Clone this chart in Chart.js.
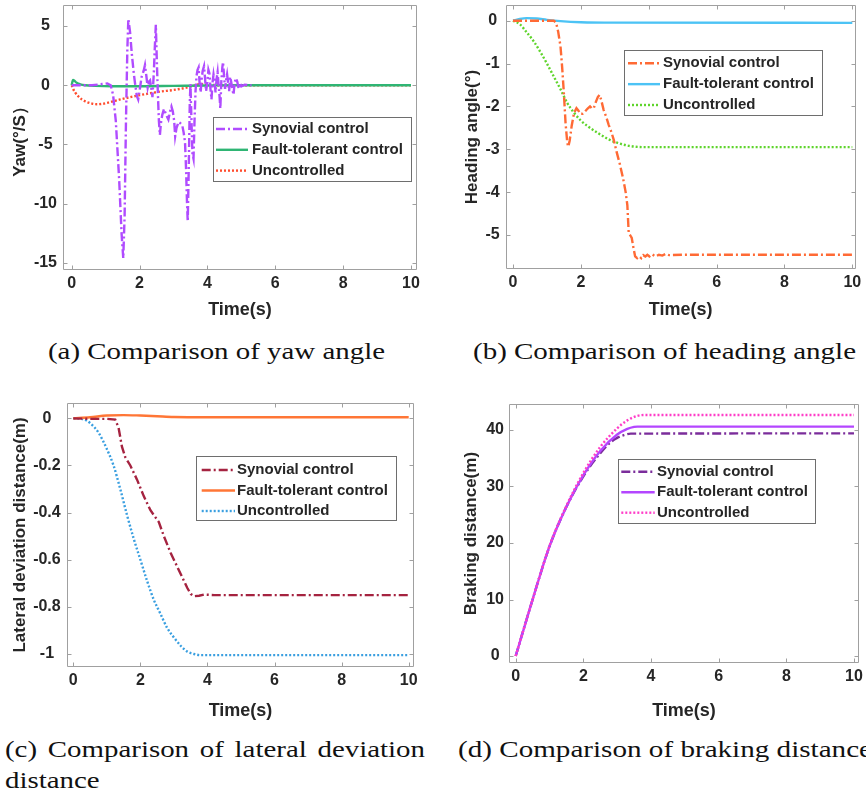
<!DOCTYPE html>
<html><head><meta charset="utf-8">
<script src="https://cdn.jsdelivr.net/npm/chart.js@4.4.1/dist/chart.umd.min.js"></script>
<style>
body{margin:0;background:#fff;width:866px;height:796px;overflow:hidden;position:relative;}
canvas{position:absolute;}
.cap{position:absolute;font-family:"Liberation Serif","Times New Roman",serif;font-size:23px;color:#111;white-space:nowrap;transform-origin:0 50%;line-height:26px;}
</style></head><body>
<canvas id="ca" width="433" height="330" style="left:0;top:0"></canvas>
<canvas id="cb" width="433" height="330" style="left:433px;top:0"></canvas>
<canvas id="cc" width="433" height="350" style="left:0;top:380px"></canvas>
<canvas id="cd" width="433" height="350" style="left:433px;top:380px"></canvas>
<div class="cap" id="capA" style="left:48px;top:339px" data-w="337">(a) Comparison of yaw angle</div>
<div class="cap" id="capB" style="left:473px;top:339px" data-w="383">(b) Comparison of heading angle</div>
<div class="cap" id="capC1" style="left:5px;top:737px;text-align:justify;text-align-last:justify">(c) Comparison of lateral deviation</div>
<div class="cap" id="capC2" style="left:5px;top:768px">distance</div>
<div class="cap" id="capD" style="left:458px;top:737px" data-w="414">(d) Comparison of braking distance</div>
<script>
// ---------------- data ----------------
const timeTicks = [0, 2, 4, 6, 8, 10];
const yawTicks = [-15, -10, -5, 0, 5];
const headingTicks = [-5, -4, -3, -2, -1, 0];
const lateralTicks = [-1, -0.8, -0.6, -0.4, -0.2, 0];
const brakingTicks = [0, 10, 20, 30, 40];
const seriesNames = ['Synovial control', 'Fault-tolerant control', 'Uncontrolled'];

// (a) yaw rate  [time, value]
const yawSynovial = [[0,0],[0.3,0],[0.6,0],[0.9,0.1],[1.05,0.15],[1.15,0],[1.22,-0.8],[1.3,-3],[1.4,-8],[1.47,-12.5],[1.52,-14.6],[1.56,-11],[1.6,-3],[1.64,3],[1.67,5.6],[1.72,4.5],[1.77,2.7],[1.83,1.0],[1.87,0.1],[1.92,-0.9],[1.96,-1.2],[2.01,-0.3],[2.06,0.7],[2.12,1.2],[2.16,1.7],[2.2,0.8],[2.24,-0.2],[2.28,0.3],[2.31,0.4],[2.35,-0.3],[2.38,-1.0],[2.42,1.0],[2.45,3.2],[2.48,5.1],[2.51,2.0],[2.54,-0.7],[2.57,-3.0],[2.6,-4.2],[2.63,-3.2],[2.67,-2.5],[2.72,-2.0],[2.76,-2.3],[2.8,-2.6],[2.85,-2.9],[2.9,-2.2],[2.94,-1.8],[2.98,-2.2],[3.02,-3.0],[3.05,-4.3],[3.09,-3.6],[3.15,-3.1],[3.2,-3.2],[3.26,-3.4],[3.3,-4.0],[3.34,-4.8],[3.37,-7],[3.4,-10],[3.42,-11.5],[3.45,-7],[3.48,-1.5],[3.5,0.1],[3.53,-3],[3.56,-5.8],[3.59,-6.2],[3.62,-3],[3.65,-0.5],[3.68,0.8],[3.71,1.3],[3.74,1.5],[3.77,0.2],[3.8,-0.6],[3.83,0.5],[3.86,1.2],[3.9,1.6],[3.93,0.6],[3.96,-0.5],[4.0,0.3],[4.03,1.3],[4.06,1.0],[4.09,-0.3],[4.12,-1.2],[4.15,0.2],[4.18,0.9],[4.21,0.3],[4.24,-0.6],[4.27,0.5],[4.3,1.1],[4.33,0.0],[4.36,-1.0],[4.38,-1.97],[4.41,0.3],[4.44,1.5],[4.46,1.97],[4.49,0.8],[4.52,-0.3],[4.55,0.4],[4.58,0.9],[4.61,0.2],[4.64,-0.5],[4.67,0.7],[4.7,0.3],[4.74,-0.4],[4.77,-0.8],[4.8,0.2],[4.84,0.6],[4.88,0.3],[4.92,-0.3],[4.96,0.2],[5.0,-0.1],[5.1,0.05],[5.3,0]];
const yawFault = [[0,0],[0.04,0.45],[0.08,0.38],[0.15,0.2],[0.25,0.08],[0.4,0.0],[0.7,-0.05],[1.2,-0.08],[2,-0.08],[3,-0.05],[4,-0.02],[5,0],[10,0]];
const yawUncontrolled = [[0,0],[0.05,-0.35],[0.1,-0.6],[0.2,-0.95],[0.3,-1.2],[0.45,-1.42],[0.6,-1.55],[0.75,-1.6],[0.9,-1.57],[1.1,-1.45],[1.4,-1.22],[1.7,-1.02],[2.0,-0.84],[2.3,-0.68],[2.6,-0.54],[3.0,-0.4],[3.3,-0.25],[3.6,-0.05],[3.8,0.1],[4.0,0.05],[4.3,0.0],[5,0],[10,0]];

// (b) heading angle
const headingSynovial = [[0,0],[1.2,0],[1.27,-0.05],[1.33,-0.25],[1.4,-0.6],[1.45,-1.1],[1.5,-1.7],[1.55,-2.4],[1.6,-2.85],[1.63,-2.94],[1.67,-2.8],[1.73,-2.45],[1.8,-2.15],[1.87,-2.04],[1.93,-2.1],[1.98,-2.17],[2.05,-2.17],[2.12,-2.12],[2.2,-2.05],[2.27,-2.0],[2.33,-2.05],[2.38,-2.04],[2.44,-1.9],[2.5,-1.78],[2.55,-1.73],[2.6,-1.85],[2.67,-2.08],[2.75,-2.25],[2.82,-2.43],[2.9,-2.6],[2.97,-2.78],[3.05,-3.05],[3.15,-3.35],[3.25,-3.7],[3.32,-4.0],[3.37,-4.3],[3.41,-4.95],[3.45,-5.0],[3.5,-5.07],[3.55,-5.3],[3.6,-5.5],[3.66,-5.54],[3.72,-5.5],[3.78,-5.54],[3.84,-5.47],[3.9,-5.5],[3.96,-5.46],[4.02,-5.5],[4.1,-5.45],[4.2,-5.5],[4.3,-5.46],[4.4,-5.48],[4.5,-5.44],[4.6,-5.47],[5,-5.46],[10,-5.46]];
const headingFault = [[0,0],[0.2,0.04],[0.4,0.06],[0.7,0.05],[1.0,0.02],[1.4,-0.01],[2,-0.035],[3,-0.045],[10,-0.05]];
const headingUncontrolled = [[0,0],[0.2,-0.08],[0.4,-0.27],[0.6,-0.47],[0.8,-0.72],[1.0,-1.0],[1.2,-1.3],[1.4,-1.6],[1.6,-1.92],[1.8,-2.15],[2.0,-2.33],[2.2,-2.46],[2.5,-2.62],[2.8,-2.76],[3.0,-2.83],[3.3,-2.9],[3.6,-2.94],[4,-2.95],[10,-2.95]];

// (c) lateral deviation
const lateralSynovial = [[0,0],[0.5,-0.002],[1.0,-0.002],[1.25,-0.005],[1.35,-0.04],[1.45,-0.12],[1.55,-0.165],[1.7,-0.2],[1.9,-0.26],[2.1,-0.33],[2.3,-0.39],[2.45,-0.42],[2.55,-0.44],[2.7,-0.5],[2.9,-0.57],[3.1,-0.63],[3.3,-0.69],[3.4,-0.72],[3.5,-0.745],[3.6,-0.755],[3.75,-0.753],[3.9,-0.748],[4.2,-0.75],[10,-0.75]];
const lateralFault = [[0,0],[0.5,0.005],[1.0,0.012],[1.5,0.014],[2.0,0.012],[2.5,0.009],[3,0.006],[4,0.005],[10,0.005]];
const lateralUncontrolled = [[0,0],[0.3,-0.003],[0.5,-0.02],[0.75,-0.06],[1.0,-0.13],[1.2,-0.2],[1.4,-0.3],[1.6,-0.41],[1.8,-0.51],[2.0,-0.6],[2.2,-0.69],[2.4,-0.77],[2.6,-0.83],[2.8,-0.89],[3.0,-0.93],[3.2,-0.965],[3.4,-0.99],[3.6,-1.0],[3.8,-1.005],[10,-1.005]];

// (d) braking distance
const brakingSynovial = [[0,0],[0.5,10],[1,19.4],[1.5,26.4],[2,31.8],[2.5,35.9],[2.8,37.8],[3,38.6],[3.2,39.1],[3.4,39.35],[10,39.4]];
const brakingFault = [[0,0],[0.5,10],[1,19.4],[1.5,26.4],[2,32],[2.5,36.3],[3,39.2],[3.3,40.2],[3.5,40.55],[3.6,40.6],[10,40.6]];
const brakingUncontrolled = [[0,0],[0.5,10],[1,19.5],[1.5,26.6],[2,32.4],[2.5,37],[3,40.3],[3.3,41.7],[3.6,42.5],[3.8,42.65],[10,42.65]];

// ---------------- styling ----------------
const TXT = '#262626';
const FAM = "'Liberation Sans', Arial, sans-serif";
const DASHDOT = [9, 3, 2, 3];
const DOT = [2, 2];
const toXY = arr => arr.map(p => ({x: p[0], y: p[1]}));

const boxPlugin = {
  id: 'matlabBox',
  afterDatasetsDraw(chart, args, opts) {
    const {ctx, chartArea: a, scales: {x, y}} = chart;
    const L = 4;
    ctx.save();
    ctx.strokeStyle = '#a0a0a0';
    ctx.lineWidth = 1;
    ctx.setLineDash([]);
    const l = Math.round(a.left) + 0.5, r = Math.round(a.right) - 0.5;
    const t = Math.round(a.top) + 0.5, b = Math.round(a.bottom) - 0.5;
    ctx.beginPath();
    ctx.rect(l, t, r - l, b - t);
    x.ticks.forEach(tk => {
      const px = Math.round(x.getPixelForValue(tk.value)) + 0.5;
      ctx.moveTo(px, b); ctx.lineTo(px, b - L);
      ctx.moveTo(px, t); ctx.lineTo(px, t + L);
    });
    y.ticks.forEach(tk => {
      const py = Math.round(y.getPixelForValue(tk.value)) + 0.5;
      ctx.moveTo(l, py); ctx.lineTo(l + L, py);
      ctx.moveTo(r, py); ctx.lineTo(r - L, py);
    });
    ctx.stroke();
    // legend
    const lg = opts.legend;
    if (lg) {
      ctx.fillStyle = '#fff';
      ctx.fillRect(lg.x, lg.y, lg.w, lg.h);
      ctx.strokeStyle = '#6e6e6e';
      ctx.lineWidth = 1;
      ctx.strokeRect(lg.x + 0.5, lg.y + 0.5, lg.w, lg.h);
      ctx.font = 'bold 15px ' + FAM;
      ctx.textBaseline = 'middle';
      chart.data.datasets.forEach((ds, i) => {
        const yy = lg.y + lg.first + i * lg.step;
        ctx.strokeStyle = ds.borderColor;
        ctx.lineWidth = ds.borderWidth;
        ctx.setLineDash(ds.borderDash || []);
        ctx.beginPath();
        ctx.moveTo(lg.x0, yy); ctx.lineTo(lg.x1, yy);
        ctx.stroke();
        ctx.setLineDash([]);
        ctx.fillStyle = TXT;
        ctx.fillText(ds.label, lg.tx, yy);
      });
    }
    ctx.restore();
  }
};

function ds(label, data, color, dash, order, smooth) {
  return {
    label, data: toXY(data), borderColor: color, backgroundColor: color,
    borderWidth: 2.4, borderDash: dash, pointRadius: 0, fill: false, order,
    cubicInterpolationMode: smooth ? 'monotone' : 'default', tension: 0
  };
}

function makeChart(id, c) {
  const canvas = document.getElementById(id);
  const W = canvas.width, H = canvas.height;
  const tickFont = {family: FAM, weight: 'bold', size: 16};
  const xTitleFont = {family: FAM, weight: 'bold', size: 18};
  const yTitleFont = {family: FAM, weight: 'bold', size: 17};
  return new Chart(canvas, {
    type: 'line',
    data: {datasets: c.datasets},
    options: {
      responsive: false, animation: false, devicePixelRatio: 1,
      layout: {padding: {left: 0, top: c.area.top, right: W - c.area.right, bottom: 0}},
      plugins: {legend: {display: false}, tooltip: {enabled: false}, matlabBox: {legend: c.legend}},
      scales: {
        x: {
          type: 'linear', min: c.xr[0], max: c.xr[1],
          grid: {display: false, drawTicks: false}, border: {display: false},
          ticks: {font: tickFont, color: TXT, padding: 4, maxRotation: 0, autoSkip: false, callback: v => String(v)},
          title: {display: true, text: 'Time(s)', font: xTitleFont, color: TXT, padding: {top: 0, bottom: c.xTitlePad}},
          afterBuildTicks: s => { s.ticks = timeTicks.map(v => ({value: v})); },
          afterFit: s => { s.height = H - c.area.bottom; s.paddingLeft = 0; s.paddingRight = 0; }
        },
        y: {
          type: 'linear', min: c.yr[0], max: c.yr[1],
          grid: {display: false, drawTicks: false}, border: {display: false},
          ticks: {font: tickFont, color: TXT, padding: c.yTickPad, crossAlign: 'center', autoSkip: false, callback: v => String(v)},
          title: {display: true, text: c.yTitle, font: yTitleFont, color: TXT, padding: {top: c.yTitlePad, bottom: 0}},
          afterBuildTicks: s => { s.ticks = c.yTicks.map(v => ({value: v})); },
          afterFit: s => { s.width = c.area.left; s.paddingTop = 0; s.paddingBottom = 0; }
        }
      }
    },
    plugins: [boxPlugin]
  });
}

makeChart('ca', {
  datasets: [
    ds(seriesNames[0], yawSynovial, '#b04cff', DASHDOT, 0, false),
    ds(seriesNames[1], yawFault, '#2fb574', [], 1, true),
    ds(seriesNames[2], yawUncontrolled, '#ff4d2e', DOT, 2, true)
  ],
  xr: [-0.256, 10.177], yr: [-15.59, 6.77], yTicks: yawTicks, yTitle: 'Yaw(°/S）',
  area: {left: 63, top: 5, right: 417, bottom: 270}, xTitlePad: 9, yTitlePad: 10, yTickPad: 6,
  legend: {x: 213, y: 117, w: 198, h: 64, first: 12, step: 20.8, x0: 216, x1: 248, tx: 252}
});

makeChart('cb', {
  datasets: [
    ds(seriesNames[0], headingSynovial, '#ff6a35', DASHDOT, 0, false),
    ds(seriesNames[1], headingFault, '#4cc3f5', [], 1, true),
    ds(seriesNames[2], headingUncontrolled, '#5fd42c', DOT, 2, true)
  ],
  xr: [-0.215, 10.1], yr: [-5.793, 0.366], yTicks: headingTicks, yTitle: 'Heading angle(°)',
  area: {left: 72.7, top: 5, right: 422.7, bottom: 269}, xTitlePad: 9, yTitlePad: 29, yTickPad: 6,
  legend: {x: 191, y: 50, w: 198, h: 65, first: 13.3, step: 20.85, x0: 195, x1: 227, tx: 230}
});

makeChart('cc', {
  datasets: [
    ds(seriesNames[0], lateralSynovial, '#a52340', DASHDOT, 0, false),
    ds(seriesNames[1], lateralFault, '#ff7636', [], 1, true),
    ds(seriesNames[2], lateralUncontrolled, '#3a9fe0', DOT, 2, true)
  ],
  xr: [-0.197, 10.167], yr: [-1.054, 0.064], yTicks: lateralTicks, yTitle: 'Lateral deviation distance(m)',
  area: {left: 66.7, top: 23.3, right: 414.3, bottom: 286.7}, xTitlePad: 8, yTitlePad: 10, yTickPad: 6,
  legend: {x: 196, y: 76, w: 200, h: 64, first: 14, step: 20.5, x0: 201.7, x1: 235, tx: 237}
});

makeChart('cd', {
  datasets: [
    ds(seriesNames[0], brakingSynovial, '#7b2d9b', DASHDOT, 2, true),
    ds(seriesNames[1], brakingFault, '#b446ff', [], 1, true),
    ds(seriesNames[2], brakingUncontrolled, '#ff3dc8', DOT, 0, true)
  ],
  xr: [-0.198, 10.148], yr: [-1.29, 44.6], yTicks: brakingTicks, yTitle: 'Braking distance(m)',
  area: {left: 76, top: 24, right: 426, bottom: 283.3}, xTitlePad: 8, yTitlePad: 28, yTickPad: 5,
  legend: {x: 185, y: 79, w: 197, h: 64, first: 12.7, step: 20.5, x0: 188.3, x1: 221.7, tx: 224}
});

// captions: fit widths (LaTeX serif is wider than Times)
const capA = document.getElementById('capA');
const natA = capA.getBoundingClientRect().width;
const sc = 337 / natA;
['capA', 'capB', 'capD'].forEach(id => {
  const el = document.getElementById(id);
  const w = el.getBoundingClientRect().width;
  el.style.transform = 'scaleX(' + (+el.dataset.w / w) + ')';
});
const c1 = document.getElementById('capC1');
c1.style.whiteSpace = 'normal';
c1.style.width = (420 / sc) + 'px';
c1.style.transform = 'scaleX(' + sc + ')';
document.getElementById('capC2').style.transform = 'scaleX(' + sc + ')';
</script>
</body></html>
